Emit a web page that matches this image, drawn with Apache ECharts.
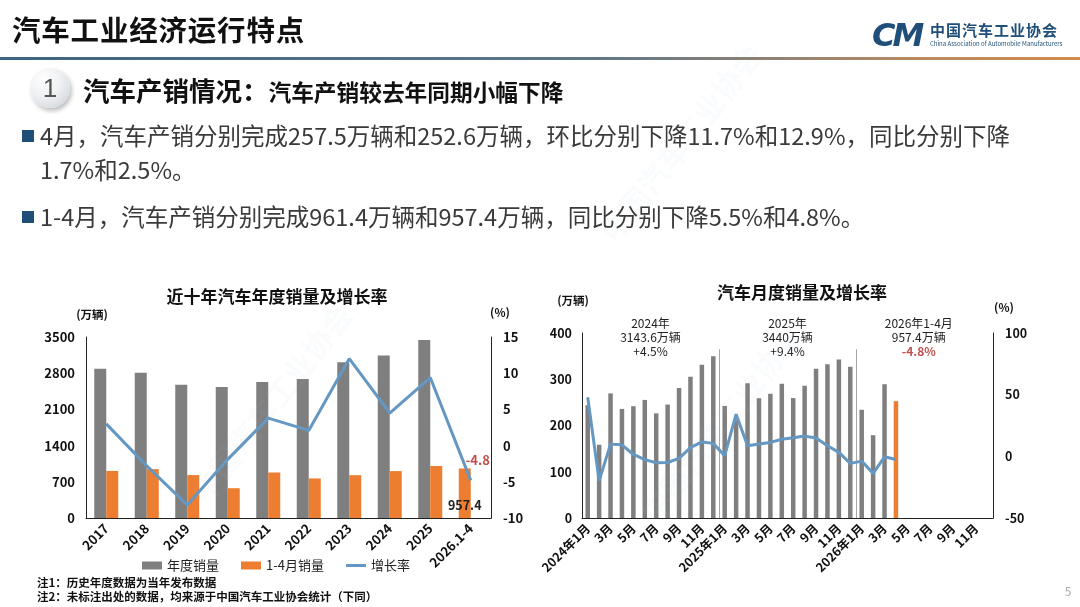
<!DOCTYPE html>
<html lang="zh-CN">
<head>
<meta charset="UTF-8">
<title>汽车工业经济运行特点</title>
<script src="https://cdn.jsdelivr.net/npm/echarts@6/dist/echarts.min.js"></script>
<style>
  html, body { margin: 0; padding: 0; background: #fff; }
  body {
    width: 1080px; height: 607px; position: relative; overflow: hidden;
    font-family: "Noto Sans CJK SC", "Noto Sans", sans-serif;
  }
  #chart { position: absolute; left: 0; top: 0; width: 1080px; height: 607px; }
  .wm {
    position: absolute; font-size: 30px; font-weight: 700; color: rgba(150, 185, 215, 0.06);
    transform: rotate(-52deg); white-space: nowrap;
  }
  .head-title {
    position: absolute; left: 12px; top: 8px; font-size: 28.5px; font-weight: 700;
    color: #111; letter-spacing: 0.8px; white-space: nowrap;
  }
  .rule {
    position: absolute; left: 0; top: 57px; width: 1080px; height: 3px;
    background: linear-gradient(to right, #3b6484 0%, #5f7789 55%, #b98a60 85%, #d38b4c 100%);
  }
  .logo-cm {
    position: absolute; left: 872px; top: 16px; font-size: 32px; font-weight: 900;
    font-style: italic; color: #1f4e79; letter-spacing: -3px; font-family: "DejaVu Sans", sans-serif;
  }
  .logo-cn {
    position: absolute; left: 930px; top: 19px; font-size: 15px; font-weight: 700;
    color: #1f4e79; letter-spacing: 1px; white-space: nowrap;
  }
  .logo-en {
    position: absolute; left: 930px; top: 39px; font-size: 6px; color: #1f4e79; white-space: nowrap;
  }
  .num {
    position: absolute; left: 30px; top: 68px; width: 40px; height: 40px; border-radius: 50%;
    background: radial-gradient(circle at 35% 30%, #ffffff 0%, #eef0f3 45%, #c9ced5 100%);
    box-shadow: 2px 3px 4px rgba(0,0,0,0.25);
    text-align: center; line-height: 40px; font-size: 26px; color: #555;
    font-family: "Liberation Sans", sans-serif;
  }
  .sect {
    position: absolute; left: 83px; top: 70px; font-weight: 700; color: #111; white-space: nowrap;
  }
  .sect .a { font-size: 26.5px; }
  .sect .b { font-size: 22.7px; }
  .bullet {
    position: absolute; left: 22px; width: 12px; height: 12px; background: #1f4e79;
  }
  .para {
    position: absolute; left: 40px; font-size: 23.5px; color: #3a3a3a; line-height: 34px;
    white-space: nowrap;
  }
</style>
</head>
<body>
<div id="chart"></div>

<div class="wm" style="left:560px; top:120px">中国汽车工业协会</div>
<div class="wm" style="left:150px; top:380px">中国汽车工业协会</div>
<div class="wm" style="left:600px; top:400px">中国汽车工业协会</div>

<div class="head-title">汽车工业经济运行特点</div>
<div class="rule"></div>
<div class="logo-cm">CM</div>
<div class="logo-cn">中国汽车工业协会</div>
<div class="logo-en">China Association of Automobile Manufacturers</div>

<div class="num">1</div>
<div class="sect"><span class="a">汽车产销情况：</span><span class="b">汽车产销较去年同期小幅下降</span></div>

<div class="bullet" style="top:130px"></div>
<div class="para" style="top:118px">4月，汽车产销分别完成257.5万辆和252.6万辆，环比分别下降11.7%和12.9%，同比分别下降<br>1.7%和2.5%。</div>
<div class="bullet" style="top:211px"></div>
<div class="para" style="top:199px">1-4月，汽车产销分别完成961.4万辆和957.4万辆，同比分别下降5.5%和4.8%。</div>

<script>
// 年度数据（左图）
const yearCats = ['2017', '2018', '2019', '2020', '2021', '2022', '2023', '2024', '2025', '2026.1-4'];
const yearSales = [2887.9, 2808.1, 2576.9, 2531.1, 2627.5, 2686.4, 3009.4, 3143.6, 3440, 957.4];
const janAprSales = [910, 945, 830, 576, 880, 765, 828, 907, 1006, null];
const yearGrowth = [3.0, -2.8, -8.2, -1.9, 3.8, 2.1, 12.0, 4.5, 9.4, -4.8];

// 月度数据（右图）
const monthCats = [
  '2024年1月', '2月', '3月', '4月', '5月', '6月', '7月', '8月', '9月', '10月', '11月', '12月',
  '2025年1月', '2月', '3月', '4月', '5月', '6月', '7月', '8月', '9月', '10月', '11月', '12月',
  '2026年1月', '2月', '3月', '4月', '5月', '6月', '7月', '8月', '9月', '10月', '11月', '12月'
];
const monthSales = [
  243.9, 158.4, 269.4, 235.9, 241.7, 255.3, 226.2, 245.3, 280.9, 305.3, 331.6, 349.9,
  242.3, 212.9, 291.5, 259.0, 268.6, 290.4, 259.3, 285.7, 322.6, 332.2, 342.9, 327.0,
  234.0, 179.0, 289.0, 252.6
];
const monthGrowth = [
  47.9, -19.9, 9.9, 9.3, 1.5, -2.7, -5.2, -5.0, -1.7, 7.0, 11.7, 10.5,
  0.5, 34.2, 8.5, 10.0, 11.3, 13.8, 15.0, 16.4, 14.8, 8.6, 3.2, -5.7,
  -3.9, -13.8, -0.4, -2.5
];
const yearNotes = [
  { from: 0, to: 12, lines: ['2024年', '3143.6万辆', '+4.5%'] },
  { from: 12, to: 24, lines: ['2025年', '3440万辆', '+9.4%'] },
  { from: 24, to: 35, lines: ['2026年1-4月', '957.4万辆', '-4.8%'] }
];

const GRAY = '#7f7f7f';
const ORANGE = '#ed7d31';
const BLUE = '#6497c2';
const RED = '#c0504d';
const FONT = '"Noto Sans CJK SC", sans-serif';

const chart = echarts.init(document.getElementById('chart'));

const axisTxt = { color: '#111', fontWeight: 'bold', fontSize: 13, fontFamily: FONT, formatter: (v) => String(v) };
const blackLine = { show: true, lineStyle: { color: '#222', width: 1 } };

function text(x, y, str, extra) {
  return {
    type: 'text', x: x, y: y, silent: true, z: 100,
    style: Object.assign({ text: str, fill: '#111', font: 'bold 12px ' + FONT, align: 'center', verticalAlign: 'middle' }, extra || {})
  };
}

const option = {
  animation: false,
  grid: [
    { left: 86, right: 589, top: 337, bottom: 89 },
    { left: 582, right: 87, top: 333, bottom: 89 }
  ],
  legend: {
    data: [
      { name: '年度销量', icon: 'rect' },
      { name: '1-4月销量', icon: 'rect' },
      { name: '增长率', icon: 'path://M0,0 L20,0 L20,3 L0,3 Z' }
    ],
    left: 137, top: 554, itemWidth: 20, itemHeight: 8, itemGap: 22,
    textStyle: { color: '#222', fontSize: 13, fontFamily: FONT }
  },
  xAxis: [
    {
      type: 'category', gridIndex: 0, data: yearCats,
      axisLine: blackLine, axisTick: { show: false },
      axisLabel: { color: '#111', fontWeight: 'bold', fontFamily: FONT, rotate: 45, interval: 0, margin: 8, fontSize: 13 }
    },
    {
      type: 'category', gridIndex: 1, data: monthCats,
      axisLine: blackLine, axisTick: { show: false },
      axisLabel: { color: '#111', fontWeight: 'bold', fontFamily: FONT, rotate: 45, interval: 1, margin: 8, fontSize: 12.5 }
    }
  ],
  yAxis: [
    {
      type: 'value', gridIndex: 0, min: 0, max: 3500, interval: 700,
      axisLine: blackLine, axisTick: { show: false }, splitLine: { show: false },
      axisLabel: Object.assign({}, axisTxt, { margin: 11 })
    },
    {
      type: 'value', gridIndex: 0, min: -10, max: 15, interval: 5, position: 'right',
      axisLine: blackLine, axisTick: { show: false }, splitLine: { show: false },
      axisLabel: Object.assign({}, axisTxt, { margin: 12 })
    },
    {
      type: 'value', gridIndex: 1, min: 0, max: 400, interval: 100,
      axisLine: blackLine, axisTick: { show: false }, splitLine: { show: false },
      axisLabel: Object.assign({}, axisTxt, { margin: 10, fontSize: 12.5 })
    },
    {
      type: 'value', gridIndex: 1, min: -50, max: 100, interval: 50, position: 'right',
      axisLine: blackLine, axisTick: { show: false }, splitLine: { show: false },
      axisLabel: Object.assign({}, axisTxt, { margin: 12, fontSize: 12.5 })
    }
  ],
  series: [
    {
      name: '年度销量', type: 'bar', xAxisIndex: 0, yAxisIndex: 0,
      barWidth: 12, barGap: '0%', itemStyle: { color: GRAY },
      data: yearSales.map((v, i) => i === yearSales.length - 1 ? {
        value: v, itemStyle: { color: ORANGE },
        label: { show: true, position: 'insideBottom', distance: 6, color: '#222', fontWeight: 'bold', fontSize: 12.5, fontFamily: FONT }
      } : v)
    },
    {
      name: '1-4月销量', type: 'bar', xAxisIndex: 0, yAxisIndex: 0,
      barWidth: 12, barGap: '0%', itemStyle: { color: ORANGE },
      data: janAprSales
    },
    {
      name: '增长率', type: 'line', xAxisIndex: 0, yAxisIndex: 1,
      symbol: 'none', lineStyle: { color: BLUE, width: 3 }, itemStyle: { color: BLUE },
      data: yearGrowth
    },
    {
      name: '月度销量', type: 'bar', xAxisIndex: 1, yAxisIndex: 2,
      barWidth: 4.5, itemStyle: { color: GRAY },
      data: monthSales.map((v, i) => i === monthSales.length - 1 ? { value: v, itemStyle: { color: ORANGE } } : v)
    },
    {
      name: '月度增长率', type: 'line', xAxisIndex: 1, yAxisIndex: 3,
      symbol: 'none', lineStyle: { color: BLUE, width: 3 },
      data: monthGrowth
    }
  ],
  graphic: [
    text(277, 297, '近十年汽车年度销量及增长率', { font: 'bold 17px ' + FONT }),
    text(92, 315, '(万辆)', { font: 'bold 11.5px ' + FONT }),
    text(500, 313, '(%)', { font: 'bold 11.5px ' + FONT }),
    text(802, 293, '汽车月度销量及增长率', { font: 'bold 17px ' + FONT }),
    text(573, 301, '(万辆)', { font: 'bold 11.5px ' + FONT }),
    text(1004, 308, '(%)', { font: 'bold 11.5px ' + FONT }),
    text(37, 583, '注1：历史年度数据为当年发布数据', { font: 'bold 11.5px ' + FONT, align: 'left' }),
    text(37, 597, '注2：未标注出处的数据，均来源于中国汽车工业协会统计（下同）', { font: 'bold 11.5px ' + FONT, align: 'left' }),
    text(1068, 591, '5', { font: '12px ' + FONT, fill: '#aaa' })
  ]
};

chart.setOption(option);

// 年份分隔线、年度注释和末点标签，位置由坐标轴换算
const px = (i) => chart.convertToPixel({ xAxisIndex: 1 }, i);
const step = px(1) - px(0);
const bandX = (i) => px(0) + (i - 0.5) * step;
const yTop = chart.convertToPixel({ yAxisIndex: 2 }, 365);
const yBase = chart.convertToPixel({ yAxisIndex: 2 }, 0);
const extra = [];
[12, 24].forEach(i => {
  const x = Math.round(bandX(i)) + 0.5;
  extra.push({ type: 'line', silent: true, shape: { x1: x, y1: yTop, x2: x, y2: yBase }, style: { stroke: '#a6a6a6', lineWidth: 1 } });
});
yearNotes.forEach((n, k) => {
  const cx = (bandX(n.from) + bandX(n.to)) / 2;
  n.lines.forEach((s, j) => {
    extra.push(text(cx, 323 + j * 14, s, {
      font: (k === 2 && j === 2 ? 'bold ' : '') + '12px ' + FONT, fill: (k === 2 && j === 2) ? RED : '#222'
    }));
  });
});
const last = yearGrowth.length - 1;
const lp = chart.convertToPixel({ xAxisIndex: 0, yAxisIndex: 1 }, [last, yearGrowth[last]]);
extra.push(text(lp[0] + 7, lp[1] - 20, String(yearGrowth[last]), { font: 'bold 13px ' + FONT, fill: RED }));
chart.setOption({ graphic: option.graphic.concat(extra) });
</script>
</body>
</html>
